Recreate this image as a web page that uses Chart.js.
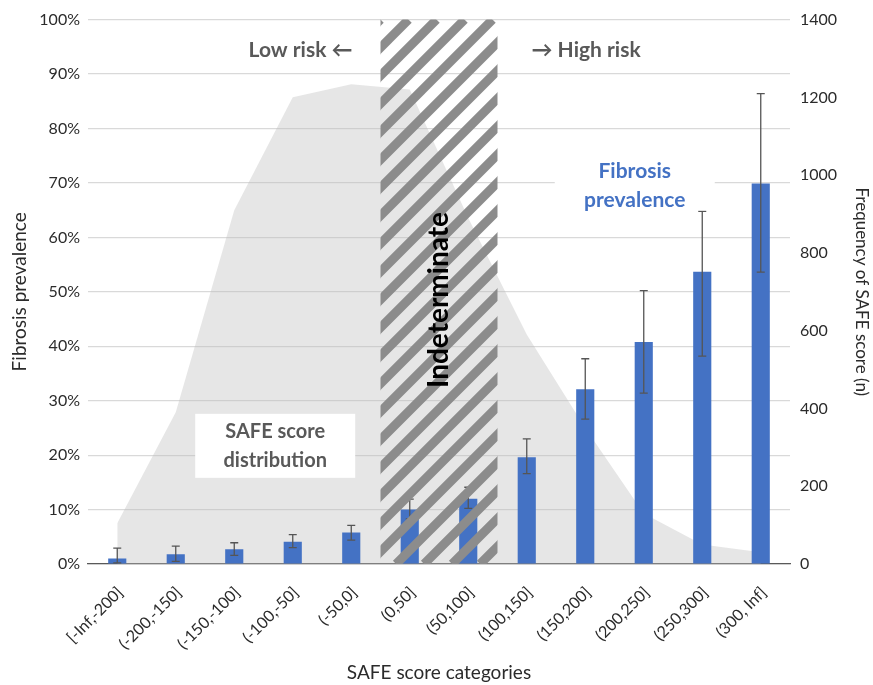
<!DOCTYPE html>
<html>
<head>
<meta charset="utf-8">
<script src="https://cdn.jsdelivr.net/npm/chart.js@4.4.1/dist/chart.umd.min.js"></script>
<style>
  html, body { margin: 0; padding: 0; background: #fff; }
  #wrap { width: 873px; height: 685px; position: relative; }
</style>
</head>
<body>
<div id="wrap"><canvas id="chart"></canvas></div>
<script>
// SAFE score categories and values
const categories = ['[-Inf,-200]', '(-200,-150]', '(-150,-100]', '(-100,-50]', '(-50,0]', '(0,50]',
  '(50,100]', '(100,150]', '(150,200]', '(200,250]', '(250,300]', '(300, Inf]'];
const prevalence = [1.0, 1.8, 2.7, 4.1, 5.8, 10.0, 12.0, 19.6, 32.1, 40.8, 53.7, 69.9]; // %
const errLow = [0.2, 0.5, 1.6, 3.0, 4.4, 8.3, 10.2, 16.6, 26.6, 31.4, 38.2, 53.6];
const errHigh = [2.9, 3.3, 3.9, 5.4, 7.1, 11.9, 14.1, 23.0, 37.7, 50.2, 64.8, 86.4];
const frequency = [105, 390, 910, 1200, 1234, 1220, 890, 590, 350, 130, 50, 30];
const leftTicks = [0, 10, 20, 30, 40, 50, 60, 70, 80, 90, 100];
const rightTicks = [0, 200, 400, 600, 800, 1000, 1200, 1400];
const indeterminate = ['(0,50]', '(50,100]'];

const FONT = 'Lato, "Open Sans", sans-serif';
const BLUE = '#4472C4';
const TXT = '#2b2b2b';

// error bars, hatched band and text boxes
const overlay = {
  id: 'overlay',
  afterDatasetsDraw(chart) {
    const ctx = chart.ctx;
    const area = chart.chartArea;
    const x = chart.scales.x;
    const y = chart.scales.y;
    const bars = chart.getDatasetMeta(0).data;

    // error bars
    ctx.save();
    ctx.strokeStyle = '#555';
    ctx.lineWidth = 1.3;
    bars.forEach((b, i) => {
      const yl = y.getPixelForValue(errLow[i]);
      const yh = y.getPixelForValue(errHigh[i]);
      ctx.beginPath();
      ctx.moveTo(b.x, yl); ctx.lineTo(b.x, yh);
      ctx.moveTo(b.x - 4, yl); ctx.lineTo(b.x + 4, yl);
      ctx.moveTo(b.x - 4, yh); ctx.lineTo(b.x + 4, yh);
      ctx.stroke();
    });
    ctx.restore();

    // text boxes
    function box(lines, cx, cy, w, h, color, size) {
      ctx.save();
      ctx.fillStyle = '#fff';
      ctx.fillRect(cx - w / 2, cy - h / 2, w, h);
      ctx.fillStyle = color;
      ctx.font = 'bold ' + size + 'px ' + FONT;
      ctx.textAlign = 'center';
      ctx.textBaseline = 'middle';
      ctx.fillText(lines[0], cx, cy - 14);
      ctx.fillText(lines[1], cx, cy + 15);
      ctx.restore();
    }
    const step = x.width / categories.length;
    box(['SAFE score', 'distribution'], x.getPixelForValue(2) + 0.7 * step, y.getPixelForValue(21.7), 160, 64, '#595959', 20);
    box(['Fibrosis', 'prevalence'], x.getPixelForValue(9) - 9, y.getPixelForValue(69.5), 160, 50, BLUE, 21);

    // hatched indeterminate band
    const i0 = categories.indexOf(indeterminate[0]);
    const i1 = categories.indexOf(indeterminate[indeterminate.length - 1]);
    const hl = x.getPixelForValue(i0) - step / 2;
    const hr = x.getPixelForValue(i1) + step / 2;
    ctx.save();
    ctx.beginPath();
    ctx.rect(hl, area.top, hr - hl, area.bottom - area.top);
    ctx.clip();
    ctx.strokeStyle = '#8c8c8c';
    ctx.lineWidth = 9;
    const hgt = area.bottom - area.top;
    for (let s = hl - hgt; s < hr + 30; s += 28) {
      ctx.beginPath();
      ctx.moveTo(s, area.bottom);
      ctx.lineTo(s + hgt, area.top);
      ctx.stroke();
    }
    ctx.restore();

    ctx.save();
    ctx.fillStyle = '#000';
    ctx.font = 'bold 28px ' + FONT;
    ctx.textAlign = 'center';
    ctx.textBaseline = 'middle';
    ctx.translate((hl + hr) / 2, y.getPixelForValue(48.5));
    ctx.rotate(-Math.PI / 2);
    ctx.fillText('Indeterminate', 0, 0);
    ctx.restore();

    // risk labels
    ctx.save();
    ctx.fillStyle = '#595959';
    ctx.font = 'bold 21px ' + FONT;
    ctx.textBaseline = 'middle';
    const ry = y.getPixelForValue(94.4);
    ctx.textAlign = 'right';
    ctx.fillText('Low risk \u2190', hl - 28, ry);
    ctx.textAlign = 'left';
    ctx.fillText('\u2192 High risk', hr + 34, ry);
    ctx.restore();
  }
};

new Chart(document.getElementById('chart'), {
  type: 'bar',
  data: {
    labels: categories,
    datasets: [
      {
        label: 'Fibrosis prevalence',
        data: prevalence,
        backgroundColor: BLUE,
        yAxisID: 'y',
        categoryPercentage: 1,
        barPercentage: 0.31,
        order: 0
      },
      {
        type: 'line',
        label: 'SAFE score distribution',
        data: frequency,
        yAxisID: 'y2',
        fill: 'origin',
        backgroundColor: 'rgba(190,190,190,0.38)',
        borderWidth: 0,
        pointRadius: 0,
        tension: 0,
        order: 1
      }
    ]
  },
  options: {
    responsive: true,
    maintainAspectRatio: false,
    animation: false,
    layout: { padding: { top: 17, right: 0, bottom: 0, left: 0 } },
    plugins: { legend: { display: false }, tooltip: { enabled: false } },
    scales: {
      x: {
        grid: { display: false },
        border: { display: true, color: '#595959', width: 1.3 },
        ticks: {
          color: TXT, font: { family: FONT, size: 16 },
          minRotation: 45, maxRotation: 45, padding: 11, labelOffset: 3
        },
        title: {
          display: true, text: 'SAFE score categories', color: TXT,
          font: { family: FONT, size: 19 }, padding: { top: 0, bottom: 1 }
        },
        afterFit: s => { s.height = 121; }
      },
      y: {
        position: 'left',
        min: 0, max: 100,
        afterBuildTicks: s => { s.ticks = leftTicks.map(v => ({ value: v })); },
        grid: { color: '#d9d9d9', lineWidth: 1.2, drawTicks: false },
        border: { display: false },
        ticks: {
          color: TXT, font: { family: FONT, size: 16 }, padding: 8,
          callback: v => v + '%'
        },
        title: {
          display: true, text: 'Fibrosis prevalence', color: TXT,
          font: { family: FONT, size: 19 }, padding: { top: 8, bottom: 0 }
        },
        afterFit: s => { s.width = 88; }
      },
      y2: {
        position: 'right',
        min: 0, max: 1400,
        afterBuildTicks: s => { s.ticks = rightTicks.map(v => ({ value: v })); },
        grid: { display: false, drawTicks: false },
        border: { display: false },
        ticks: {
          color: TXT, font: { family: FONT, size: 16 }, padding: 10,
          callback: v => String(v)
        },
        title: {
          display: true, text: 'Frequency of SAFE score (n)', color: TXT,
          font: { family: FONT, size: 17 }, padding: { top: 1, bottom: 0 }
        },
        afterFit: s => { s.width = 83; }
      }
    }
  },
  plugins: [overlay]
});
</script>
</body>
</html>
